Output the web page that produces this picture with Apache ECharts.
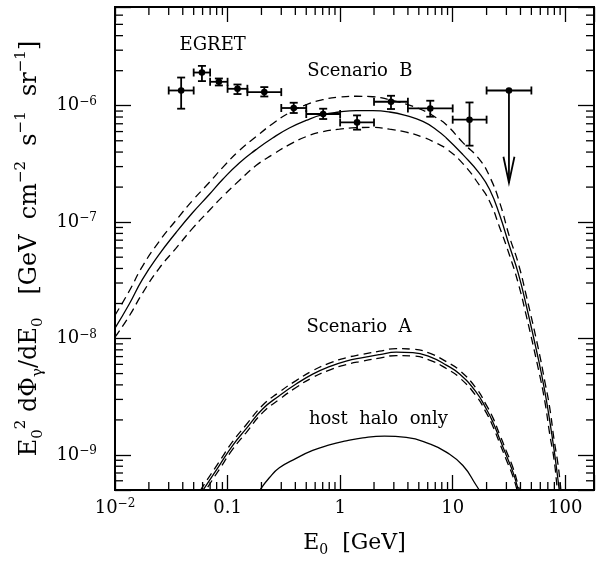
<!DOCTYPE html>
<html><head><meta charset="utf-8">
<script src="https://cdn.jsdelivr.net/npm/echarts@6/dist/echarts.min.js"></script>
<style>html,body{margin:0;padding:0;background:#fff}#c{width:600px;height:562px}</style>
</head><body><div id="c"></div>
<script>
const FONT = '"DejaVu Serif", "Liberation Serif", serif';

// axis ticks / labels
const xTicksMajor = [0.01, 0.1, 1, 10, 100];
const xTickLabels = ['10^-2', '0.1', '1', '10', '100'];
const yTicksMajor = [1e-9, 1e-8, 1e-7, 1e-6];
const yTickLabels = ['10^-9', '10^-8', '10^-7', '10^-6'];

// Scenario B (solid, upper dashed, lower dashed)
const bX = [0.01, 0.01335, 0.01753, 0.02469, 0.03475, 0.04883, 0.06873, 0.09027, 0.1271, 0.1789, 0.2514, 0.3538, 0.4983, 0.700, 0.986, 1.388, 1.950, 2.746, 3.866, 5.431, 7.146, 8.772, 12.32, 17.35, 21.30, 26.14, 32.08, 38.02, 45.16, 57.77, 65.70, 72.80, 79.51, 85.23, 89.35, 91.5];
const bSolid = [1.228e-8, 1.971e-8, 3.228e-8, 5.287e-8, 8.11e-8, 1.203e-7, 1.727e-7, 2.322e-7, 3.228e-7, 4.198e-7, 5.287e-7, 6.44e-7, 7.482e-7, 8.375e-7, 8.832e-7, 9.062e-7, 9.062e-7, 8.832e-7, 8.21e-7, 7.336e-7, 6.228e-7, 5.287e-7, 3.804e-7, 2.614e-7, 1.906e-7, 1.15e-7, 6.14e-8, 3.70e-8, 1.903e-8, 6.62e-9, 3.56e-9, 1.96e-9, 1.112e-9, 6.66e-10, 4.64e-10, 4.0e-10];
const bUpper = [1.586e-8, 2.548e-8, 4.173e-8, 6.834e-8, 1.034e-7, 1.535e-7, 2.189e-7, 2.942e-7, 4.115e-7, 5.425e-7, 7.011e-7, 8.71e-7, 1.02e-6, 1.126e-6, 1.187e-6, 1.206e-6, 1.194e-6, 1.126e-6, 1.03e-6, 9.15e-7, 7.891e-7, 6.873e-7, 4.819e-7, 3.445e-7, 2.464e-7, 1.475e-7, 7.39e-8, 4.515e-8, 2.308e-8, 8.11e-9, 4.315e-9, 2.533e-9, 1.355e-9, 8.95e-10, 6.24e-10, 4.92e-10];
const bLower = [1.028e-8, 1.556e-8, 2.449e-8, 4.011e-8, 5.95e-8, 8.83e-8, 1.259e-7, 1.66e-7, 2.277e-7, 3.061e-7, 3.804e-7, 4.632e-7, 5.425e-7, 5.987e-7, 6.29e-7, 6.478e-7, 6.517e-7, 6.29e-7, 5.928e-7, 5.371e-7, 4.771e-7, 4.28e-7, 3.184e-7, 2.063e-7, 1.504e-7, 9.01e-8, 5.143e-8, 3.043e-8, 1.556e-8, 5.433e-9, 2.925e-9, 1.504e-9, 9.13e-10, 4.95e-10, 3.45e-10, 3.0e-10];

// Scenario A
const aX = [0.057, 0.0608, 0.0844, 0.1108, 0.1458, 0.2048, 0.2884, 0.4061, 0.5706, 0.803, 1.131, 1.589, 2.237, 3.15, 4.425, 6.23, 8.772, 11.52, 16.22, 19.91, 22.79, 26.14, 29.99, 34.32, 38.02, 39.5];
const aSolid = [4.6e-10, 5.02e-10, 8.11e-10, 1.204e-9, 1.674e-9, 2.483e-9, 3.228e-9, 4.067e-9, 4.953e-9, 5.742e-9, 6.4e-9, 6.859e-9, 7.278e-9, 7.647e-9, 7.572e-9, 6.996e-9, 5.916e-9, 4.953e-9, 3.452e-9, 2.483e-9, 1.91e-9, 1.374e-9, 9.88e-10, 7.12e-10, 5.12e-10, 4.5e-10];
const aUpper = [4.9e-10, 5.42e-10, 8.76e-10, 1.3e-9, 1.808e-9, 2.669e-9, 3.47e-9, 4.352e-9, 5.3e-9, 6.144e-9, 6.848e-9, 7.339e-9, 7.787e-9, 8.182e-9, 8.102e-9, 7.486e-9, 6.33e-9, 5.324e-9, 3.728e-9, 2.682e-9, 2.082e-9, 1.498e-9, 1.077e-9, 7.76e-10, 5.58e-10, 4.9e-10];
const aLower = [4.3e-10, 4.65e-10, 7.51e-10, 1.115e-9, 1.55e-9, 2.31e-9, 3.003e-9, 3.801e-9, 4.629e-9, 5.366e-9, 5.981e-9, 6.41e-9, 6.802e-9, 7.147e-9, 7.077e-9, 6.538e-9, 5.529e-9, 4.607e-9, 3.196e-9, 2.299e-9, 1.752e-9, 1.261e-9, 9.06e-10, 6.53e-10, 4.7e-10, 4.2e-10];

// host halo only
const hostX = [0.1942, 0.235, 0.2884, 0.4061, 0.5706, 0.803, 1.131, 1.589, 2.478, 3.866, 6.23, 8.772, 12.32, 16.22, 17.35];
const hostY = [5.02e-10, 6.37e-10, 7.75e-10, 9.35e-10, 1.095e-9, 1.22e-9, 1.32e-9, 1.401e-9, 1.449e-9, 1.415e-9, 1.245e-9, 1.057e-9, 8.11e-10, 5.467e-10, 4.92e-10];

// EGRET data points
const egretE   = [0.0387, 0.0592, 0.0837, 0.1225, 0.212, 0.387, 0.707, 1.414, 2.83, 6.32, 14.1];
const egretELo = [0.03, 0.05, 0.07, 0.1, 0.15, 0.3, 0.5, 1, 2, 4, 10];
const egretEHi = [0.05, 0.07, 0.1, 0.15, 0.3, 0.5, 1, 2, 4, 10, 20];
const egretF   = [1.352e-6, 1.929e-6, 1.606e-6, 1.398e-6, 1.31e-6, 0.956e-6, 0.849e-6, 0.719e-6, 1.082e-6, 0.948e-6, 0.759e-6];
const egretFLo = [0.943e-6, 1.628e-6, 1.493e-6, 1.26e-6, 1.201e-6, 0.866e-6, 0.769e-6, 0.623e-6, 0.937e-6, 0.805e-6, 0.454e-6];
const egretFHi = [1.747e-6, 2.2e-6, 1.714e-6, 1.522e-6, 1.446e-6, 1.061e-6, 0.943e-6, 0.826e-6, 1.218e-6, 1.104e-6, 1.067e-6];
// EGRET upper limit
const ulE = [31.6], ulELo = [20], ulEHi = [50], ulF = [1.352e-6], ulTip = [2.18e-7];

// annotations
const annotText = ['EGRET', 'Scenario  B', 'Scenario  A', 'host  halo  only'];
const annotX = [0.0738, 1.50, 1.47, 2.19];
const annotY = [3.33e-6, 1.975e-6, 1.24e-8, 2.04e-9];

const X_MIN = 0.01, X_MAX = 180, Y_MIN = 5e-10, Y_MAX = 7.05e-6;

// minor tick values (axis decoration)
const xMinorTicks = [], yMinorTicks = [];
for (let e = -2; e <= 2; e++) for (let k = 2; k <= 9; k++) {
  const v = k * Math.pow(10, e);
  if (v > X_MIN && v < X_MAX) xMinorTicks.push(v);
}
for (let e = -10; e <= -6; e++) for (let k = 2; k <= 9; k++) {
  const v = k * Math.pow(10, e);
  if (v > Y_MIN * 0.999 && v < Y_MAX) yMinorTicks.push(v);
}

function zip(xs, ys) { return xs.map((x, i) => [x, ys[i]]); }
function fmtTick(s) {
  const m = s.split('^');
  if (m.length === 2) return '{b|' + m[0] + '}{s|' + m[1].replace('-', '\u2212') + '}';
  return '{b|' + s + '}';
}
function labelFor(v, majors, labels) {
  for (let i = 0; i < majors.length; i++) {
    if (Math.abs(Math.log10(v) - Math.log10(majors[i])) < 1e-6) return fmtTick(labels[i]);
  }
  return '';
}
const tickRich = {
  b: { fontFamily: FONT, fontSize: 18, color: '#000', lineHeight: 20 },
  s: { fontFamily: FONT, fontSize: 12, color: '#000', lineHeight: 12, verticalAlign: 'top' }
};
const majorTickX = { show: true, inside: true, length: 15, lineStyle: { color: '#000', width: 1.3 } };
const majorTickY = { show: true, inside: true, length: 16, lineStyle: { color: '#000', width: 1.3 } };

function lineSeries(xs, ys, dashed) {
  return {
    type: 'line', data: zip(xs, ys), symbol: 'none', smooth: 0.5, clip: true,
    lineStyle: { color: '#000', width: 1.3, type: dashed ? [8, 5] : 'solid' },
    silent: true, z: 3
  };
}

const chart = echarts.init(document.getElementById('c'), null, { renderer: 'canvas' });
chart.setOption({
  animation: false,
  backgroundColor: '#fff',
  grid: { left: 115, right: 6, top: 7, bottom: 71, show: true, borderColor: '#000', borderWidth: 2, backgroundColor: 'transparent' },
  xAxis: [{
    type: 'log', logBase: 10, min: X_MIN, max: X_MAX, position: 'bottom',
    axisLine: { show: false }, axisTick: majorTickX, splitLine: { show: false },
    axisLabel: { margin: 8, formatter: v => labelFor(v, xTicksMajor, xTickLabels), rich: tickRich, showMinLabel: true, showMaxLabel: true },
    name: '{t|E}{sb|0}{t|  [GeV]}', nameLocation: 'middle', nameGap: 39,
    nameTextStyle: { rich: {
      t: { fontFamily: FONT, fontSize: 22, color: '#000', lineHeight: 28 },
      sb: { fontFamily: FONT, fontSize: 14, color: '#000', lineHeight: 14, verticalAlign: 'bottom' }
    } }
  }, {
    type: 'log', logBase: 10, min: X_MIN, max: X_MAX, position: 'top',
    axisLine: { show: false }, axisTick: majorTickX, splitLine: { show: false }, axisLabel: { show: false }
  }],
  yAxis: [{
    type: 'log', logBase: 10, min: Y_MIN, max: Y_MAX, position: 'left',
    axisLine: { show: false }, axisTick: majorTickY, splitLine: { show: false },
    axisLabel: { margin: 18, formatter: v => labelFor(v, yTicksMajor, yTickLabels), rich: tickRich },
    name: '{t|E}{sb|0}{sp|2}{t| dΦ}{sb|γ}{t|/dE}{sb|0}{t|   [GeV  cm}{sp|\u22122}{t|  s}{sp|\u22121}{t|  sr}{sp|\u22121}{t|]}',
    nameLocation: 'middle', nameGap: 62, nameRotate: 90,
    nameTextStyle: { rich: {
      t: { fontFamily: FONT, fontSize: 24, color: '#000', lineHeight: 32 },
      sb: { fontFamily: FONT, fontSize: 15, color: '#000', lineHeight: 15, verticalAlign: 'bottom' },
      sp: { fontFamily: FONT, fontSize: 15, color: '#000', lineHeight: 17, verticalAlign: 'top' }
    } }
  }, {
    type: 'log', logBase: 10, min: Y_MIN, max: Y_MAX, position: 'right',
    axisLine: { show: false }, axisTick: majorTickY, splitLine: { show: false }, axisLabel: { show: false }
  }],
  series: [
    lineSeries(bX, bSolid, false), lineSeries(bX, bUpper, true), lineSeries(bX, bLower, true),
    lineSeries(aX, aSolid, false), lineSeries(aX, aUpper, true), lineSeries(aX, aLower, true),
    lineSeries(hostX, hostY, false),
    { // EGRET points with error bars (+ minor axis ticks drawn with the first item)
      type: 'custom', silent: true, z: 6,
      data: egretE.map((e, i) => [e, egretF[i], egretELo[i], egretEHi[i], egretFLo[i], egretFHi[i]]),
      renderItem(params, api) {
        const E = api.value(0), F = api.value(1);
        const c = api.coord([E, F]);
        const xl = api.coord([api.value(2), F])[0], xr = api.coord([api.value(3), F])[0];
        const yb = api.coord([E, api.value(4)])[1], yt = api.coord([E, api.value(5)])[1];
        const st = () => ({ stroke: '#000', lineWidth: 1.8 });
        const cap = 4;
        const children = [
          { type: 'line', shape: { x1: xl, y1: c[1], x2: xr, y2: c[1] }, style: st() },
          { type: 'line', shape: { x1: c[0], y1: yt, x2: c[0], y2: yb }, style: st() },
          { type: 'line', shape: { x1: xl, y1: c[1] - cap, x2: xl, y2: c[1] + cap }, style: st() },
          { type: 'line', shape: { x1: xr, y1: c[1] - cap, x2: xr, y2: c[1] + cap }, style: st() },
          { type: 'line', shape: { x1: c[0] - cap, y1: yt, x2: c[0] + cap, y2: yt }, style: st() },
          { type: 'line', shape: { x1: c[0] - cap, y1: yb, x2: c[0] + cap, y2: yb }, style: st() },
          { type: 'circle', shape: { cx: c[0], cy: c[1], r: 3.3 }, style: { fill: '#000' } }
        ];
        if (params.dataIndex === 0) {
          const lb = api.coord([X_MIN, Y_MIN]), rt = api.coord([X_MAX, Y_MAX]);
          const tst = () => ({ stroke: '#000', lineWidth: 1.3 });
          xMinorTicks.forEach(v => {
            const px = api.coord([v, F])[0];
            children.push({ type: 'line', shape: { x1: px, y1: lb[1], x2: px, y2: lb[1] - 8 }, style: tst() });
            children.push({ type: 'line', shape: { x1: px, y1: rt[1], x2: px, y2: rt[1] + 8 }, style: tst() });
          });
          yMinorTicks.forEach(v => {
            const py = api.coord([E, v])[1];
            children.push({ type: 'line', shape: { x1: lb[0], y1: py, x2: lb[0] + 8, y2: py }, style: tst() });
            children.push({ type: 'line', shape: { x1: rt[0], y1: py, x2: rt[0] - 8, y2: py }, style: tst() });
          });
        }
        return { type: 'group', children };
      }
    },
    { // EGRET upper limit
      type: 'custom', silent: true, z: 6,
      data: ulE.map((e, i) => [e, ulF[i], ulELo[i], ulEHi[i], ulTip[i]]),
      renderItem(params, api) {
        const E = api.value(0), F = api.value(1);
        const c = api.coord([E, F]);
        const xl = api.coord([api.value(2), F])[0], xr = api.coord([api.value(3), F])[0];
        const tip = api.coord([E, api.value(4)])[1];
        const st = () => ({ stroke: '#000', lineWidth: 1.8 });
        const cap = 4;
        return { type: 'group', children: [
          { type: 'line', shape: { x1: xl, y1: c[1], x2: xr, y2: c[1] }, style: st() },
          { type: 'line', shape: { x1: xl, y1: c[1] - cap, x2: xl, y2: c[1] + cap }, style: st() },
          { type: 'line', shape: { x1: xr, y1: c[1] - cap, x2: xr, y2: c[1] + cap }, style: st() },
          { type: 'line', shape: { x1: c[0], y1: c[1], x2: c[0], y2: tip }, style: st() },
          { type: 'polyline', shape: { points: [[c[0] - 5.5, tip - 26], [c[0], tip], [c[0] + 5.5, tip - 26]] }, style: { stroke: '#000', lineWidth: 1.8, fill: null } },
          { type: 'circle', shape: { cx: c[0], cy: c[1], r: 3.3 }, style: { fill: '#000' } }
        ] };
      }
    },
    { // text annotations
      type: 'custom', silent: true, z: 7,
      data: annotText.map((t, i) => [annotX[i], annotY[i], i]),
      renderItem(params, api) {
        const p = api.coord([api.value(0), api.value(1)]);
        return { type: 'text', x: p[0], y: p[1], style: {
          text: annotText[api.value(2)], fontFamily: FONT, fontSize: 18, fill: '#000',
          align: 'center', verticalAlign: 'middle'
        } };
      }
    }
  ]
});
</script></body></html>
